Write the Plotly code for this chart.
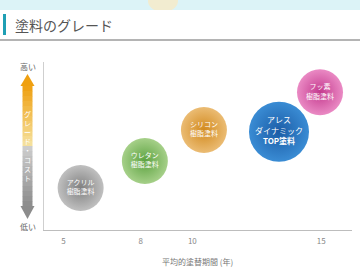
import plotly.graph_objects as go

# ---- data ----
paints = ["アクリル<br>樹脂塗料", "ウレタン<br>樹脂塗料", "シリコン<br>樹脂塗料",
          "アレス<br>ダイナミック<br><b>TOP塗料</b>", "フッ素<br>樹脂塗料"]
years = [5.67, 8.16, 10.45, 13.36, 14.95]      # average repaint period
grade = [2.5, 4.1, 5.95, 5.85, 8.2]             # grade / cost (relative)
sizes = [46, 46, 46, 60, 46]
center_colors = ["#c0c0c0", "#a6d089", "#ebbc74", "#3a8cd4", "#ea8ac4"]
edge_colors = ["#808080", "#5ca240", "#d28a1e", "#1b5ca6", "#c43a8e"]
text_sizes = [7, 7, 7, 8, 7]
xticks = [5, 8, 10, 15]

W, H = 360, 268
L, R, T, B = 44, 8, 62, 38
PW, PH = W - L - R, H - T - B

def px(x):
    return (x - L) / PW

def py(y):
    return (H - B - y) / PH

fig = go.Figure()
for i in range(len(paints)):
    fig.add_trace(go.Scatter(
        x=[years[i]], y=[grade[i]], mode="markers+text",
        text=[paints[i]], textposition="middle center",
        textfont=dict(color="white", size=text_sizes[i], family="Noto Sans CJK JP"),
        marker=dict(size=sizes[i], color=center_colors[i],
                    gradient=dict(type="radial", color=edge_colors[i]),
                    line=dict(width=0)),
        hoverinfo="skip", showlegend=False))

shapes = []
# header band
shapes.append(dict(type="rect", xref="paper", yref="paper", x0=px(0), x1=px(W), y0=py(10), y1=py(0),
                   fillcolor="#dcf3f7", line_width=0, layer="below"))
shapes.append(dict(type="circle", xref="paper", yref="paper", x0=px(148), x1=px(178), y0=py(12), y1=py(-10),
                   fillcolor="#f2ecd0", line_width=0, layer="below"))
shapes.append(dict(type="rect", xref="paper", yref="paper", x0=px(0), x1=px(W), y0=py(12), y1=py(10),
                   fillcolor="white", line_width=0, layer="below"))
# title bar + underline
shapes.append(dict(type="rect", xref="paper", yref="paper", x0=px(3), x1=px(6), y0=py(35), y1=py(14),
                   fillcolor="#1f9fb4", line_width=0))
shapes.append(dict(type="line", xref="paper", yref="paper", x0=px(0), x1=px(W), y0=py(40), y1=py(40),
                   line=dict(color="#b4b4b4", width=2)))

# double arrow with gradient (orange top, gray bottom)
def lerp(c1, c2, t):
    a = [int(c1[i:i + 2], 16) for i in (1, 3, 5)]
    b = [int(c2[i:i + 2], 16) for i in (1, 3, 5)]
    return "#" + "".join("%02x" % int(a[k] + (b[k] - a[k]) * t) for k in range(3))

cx, sw, hw = 27.5, 5, 7
top_tip, top_base, bot_base, bot_tip, mid = 74, 86, 206, 219, 145
shapes.append(dict(type="path", xref="paper", yref="paper",
                   path="M %f %f L %f %f L %f %f Z" % (px(cx), py(top_tip), px(cx - hw), py(top_base), px(cx + hw), py(top_base)),
                   fillcolor="#efa010", line_width=0))
shapes.append(dict(type="path", xref="paper", yref="paper",
                   path="M %f %f L %f %f L %f %f Z" % (px(cx), py(bot_tip), px(cx - hw), py(bot_base), px(cx + hw), py(bot_base)),
                   fillcolor="#8c8c8c", line_width=0))
n = 24
for k in range(n):
    y0 = top_base + (bot_base - top_base) * k / n
    y1 = top_base + (bot_base - top_base) * (k + 1) / n
    ym = (y0 + y1) / 2
    if ym < mid:
        col = lerp("#efa010", "#f6e2a0", (ym - top_base) / (mid - top_base))
    else:
        col = lerp("#d0d0d0", "#8c8c8c", (ym - mid) / (bot_base - mid))
    shapes.append(dict(type="rect", xref="paper", yref="paper", x0=px(cx - sw), x1=px(cx + sw),
                       y0=py(y1 + 0.3), y1=py(y0), fillcolor=col, line_width=0))

def ann(text, x, y, size, color, xanchor="center"):
    return dict(text=text, x=px(x), y=py(y), xref="paper", yref="paper", xanchor=xanchor,
                yanchor="middle", showarrow=False,
                font=dict(size=size, color=color, family="Noto Sans CJK JP"))

annotations = [
    ann("塗料のグレード", 13, 25, 14, "#555555", xanchor="left"),
    ann("高い", 28, 66, 8, "#666666"),
    ann("低い", 28, 226, 8, "#666666"),
    ann("<br>".join(list("グレード・コスト")), cx, 146, 7, "white"),
    ann("平均的塗替期間 (年)", 197, 261, 8, "#777777"),
]

fig.update_layout(
    width=W, height=H, margin=dict(l=L, r=R, t=T, b=B),
    paper_bgcolor="white", plot_bgcolor="white",
    shapes=shapes, annotations=annotations,
    xaxis=dict(range=[4.25, 16.19], tickvals=xticks, ticktext=[str(v) for v in xticks],
               showgrid=False, zeroline=False, showline=True, linecolor="#bdbdbd", linewidth=1,
               ticks="", ticklabelstandoff=3,
               tickfont=dict(size=8, color="#888888", family="Noto Sans CJK JP")),
    yaxis=dict(range=[0, 10], showgrid=False, zeroline=False, showline=True, linecolor="#cfcfcf",
               linewidth=1, showticklabels=False, ticks=""),
)
fig.write_html("out.html", config={"displayModeBar": False},
               post_script="document.body.style.margin='0';")
